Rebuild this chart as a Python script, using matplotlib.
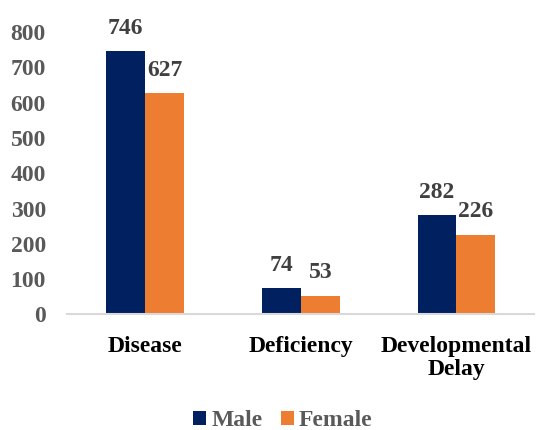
import matplotlib
matplotlib.use("Agg")
import matplotlib.pyplot as plt
import numpy as np

categories = ["Disease", "Deficiency", "Developmental\nDelay"]
male = [746, 74, 282]
female = [627, 53, 226]
series_names = ["Male", "Female"]
colors = ["#002060", "#ED7D31"]
yticks = [0, 100, 200, 300, 400, 500, 600, 700, 800]

plt.rcParams["font.family"] = ["Liberation Serif", "DejaVu Serif"]
plt.rcParams["font.weight"] = "bold"

fig = plt.figure(figsize=(5.36, 4.30), dpi=100)
ax = fig.add_axes([0.1259, 0.2688, 0.8709, 0.6568])

x = np.arange(len(categories))
w = 0.25
b1 = ax.bar(x - w / 2, male, w, color=colors[0], label=series_names[0])
b2 = ax.bar(x + w / 2, female, w, color=colors[1], label=series_names[1])

for bars in (b1, b2):
    for rect in bars:
        h = rect.get_height()
        ax.annotate(f"{h:.0f}", (rect.get_x() + rect.get_width() / 2, h),
                    xytext=(0, 12.5), textcoords="offset points",
                    ha="center", va="baseline", fontsize=17,
                    fontweight="bold", color="#404040", annotation_clip=False)

ax.set_xlim(-0.5, 2.5)
ax.set_ylim(0, 800)
ax.set_yticks(yticks)
ax.set_yticklabels([str(t) for t in yticks], fontsize=17, fontweight="bold", color="#595959")
ax.set_xticks(x)
ax.set_xticklabels(categories, fontsize=17, fontweight="bold", color="black", linespacing=1.1)
ax.tick_params(axis="both", length=0)
ax.tick_params(axis="x", pad=15.5)
ax.tick_params(axis="y", pad=15.5)

for s in ("top", "right", "left"):
    ax.spines[s].set_visible(False)
ax.spines["bottom"].set_color("#D9D9D9")
ax.spines["bottom"].set_linewidth(1.5)

leg = fig.legend(handles=[b1, b2], labels=series_names, loc="center",
                 bbox_to_anchor=(0.528, 0.021), ncol=2, frameon=False,
                 fontsize=17, handlelength=0.55, handleheight=0.55,
                 handletextpad=0.2, columnspacing=0.8, borderpad=0)
for t in leg.get_texts():
    t.set_color("#595959")
    t.set_fontweight("bold")

fig.savefig("out.png", dpi=100)
